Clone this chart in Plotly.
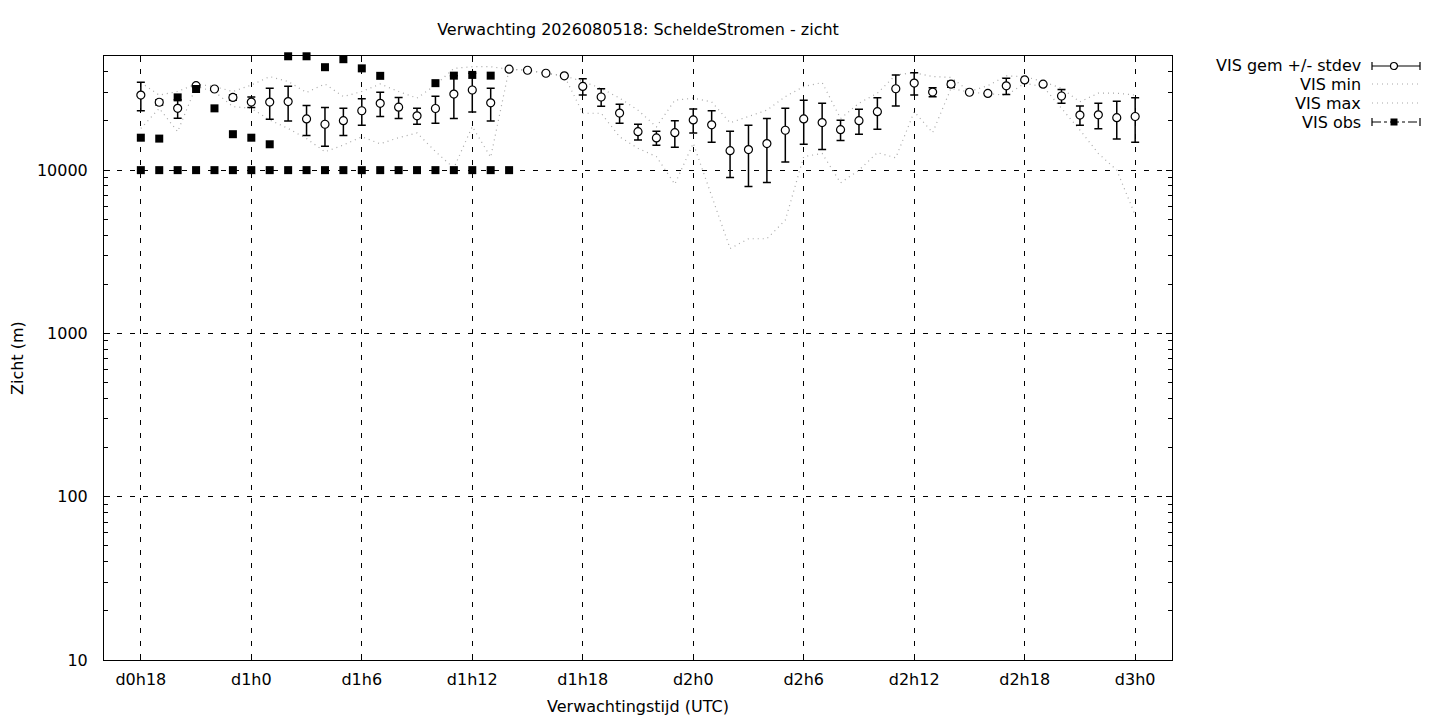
import plotly.graph_objects as go

# forecast hours since d0h0
hours = [18, 19, 20, 21, 22, 23, 24, 25, 26, 27, 28, 29, 30, 31, 32, 33, 34, 35, 36,
         37, 38, 39, 40, 41, 42, 43, 44, 45, 46, 47, 48, 49, 50, 51, 52, 53, 54, 55,
         56, 57, 58, 59, 60, 61, 62, 63, 64, 65, 66, 67, 68, 69, 70, 71, 72]

vis_mean = [28800, 26050, 23900, 32900, 31400, 27900, 26100, 26100, 26300, 20600,
            19100, 20100, 23100, 25650, 24300, 21500, 23850, 29250, 30950, 25850,
            41500, 40900, 39200, 37800, 32550, 28050, 22350, 17200, 15750, 16950,
            20300, 18950, 13160, 13370, 14550, 17550, 20600, 19550, 17700, 20100,
            22800, 31500, 34150, 30050, 33600, 30000, 29500, 32850, 35700, 33600,
            28450, 21750, 21800, 20950, 21300]

vis_sd = [5700, 950, 3100, 600, 300, 1100, 1900, 5600, 6300, 4300,
          5100, 3800, 4300, 4350, 3600, 2400, 4450, 8550, 8250, 5850,
          0, 0, 0, 0, 3750, 3450, 2950, 1900, 1550, 3150,
          3400, 4150, 4140, 5430, 6150, 6350, 6200, 6150, 2500, 3500,
          5000, 6800, 5350, 1950, 1450, 0, 0, 3750, 0, 0,
          2750, 2950, 3900, 5450, 6500]

vis_min = [18000, 23900, 17200, 32500, 30300, 24500, 23900, 20300, 18000, 15600,
           12950, 14250, 16000, 14500, 15800, 16900, 13000, 10300, 18500, 12000,
           41500, 40900, 39200, 37800, 22300, 22300, 16000, 13600, 12100, 8200,
           14600, 6870, 3310, 3800, 3800, 4940, 12100, 12650, 8360, 10000,
           12800, 11900, 22800, 16950, 31700, 30000, 29500, 28800, 34000, 32500,
           23900, 17600, 12650, 10000, 5300]

vis_max = [34400, 28800, 30300, 33700, 32500, 30300, 33200, 37400, 34900, 29900,
           33700, 28200, 30300, 33700, 30300, 27600, 33200, 42000, 43000, 43000,
           41500, 40900, 39200, 37800, 34900, 31700, 27600, 23300, 18400, 26800,
           27600, 26200, 19500, 21200, 23300, 28200, 32500, 34400, 20700, 25700,
           29600, 38300, 39500, 37400, 37000, 30300, 32900, 37800, 37400, 34900,
           31700, 26200, 29600, 29600, 28800]

# observations (two stations)
obs_hours = [18, 19, 20, 21, 22, 23, 24, 25, 26, 27, 28, 29, 30, 31, 32, 33, 34,
             35, 36, 37, 38]
obs_a = [10000, 10000, 10000, 10000, 10000, 10000, 10000, 10000, 10000, 10000,
         10000, 10000, 10000, 10000, 10000, 10000, 10000, 10000, 10000, 10000, 10000]
obs_b = [15800, 15600, 27900, 31400, 23900, 16600, 15800, 14400, 49800, 49800,
         42700, 47800, 42000, 37800, None, None, 34100, 37900, 38300, 37900, None]

tick_hours = [18, 24, 30, 36, 42, 48, 54, 60, 66, 72]
tick_text = ["d0h18", "d1h0", "d1h6", "d1h12", "d1h18", "d2h0", "d2h6", "d2h12",
             "d2h18", "d3h0"]

FONT = "DejaVu Sans"
FS = 16
OFF = 8  # page body margin
W, H = 1440 - OFF, 720 - OFF
# plot area in page pixels
L, R, T, B = 104, 1172, 56, 660
MIN_COLOR = "#a8a8a8"
MIN_DASH = "1px,4px"
GRID_DASH = "5px,8px"

fig = go.Figure()

fig.add_trace(go.Scatter(x=hours, y=vis_min, mode="lines", name="VIS min",
                         line=dict(color=MIN_COLOR, width=1.2, dash=MIN_DASH),
                         showlegend=False))
fig.add_trace(go.Scatter(x=hours, y=vis_max, mode="lines", name="VIS max",
                         line=dict(color=MIN_COLOR, width=1.2, dash=MIN_DASH),
                         showlegend=False))
fig.add_trace(go.Scatter(
    x=hours, y=vis_mean, mode="markers", name="VIS gem +/- stdev",
    marker=dict(symbol="circle", size=8, color="white",
                line=dict(color="black", width=1.2)),
    error_y=dict(type="data", array=vis_sd, symmetric=True, color="black",
                 thickness=1.5, width=4),
    showlegend=False))
for obs in (obs_a, obs_b):
    fig.add_trace(go.Scatter(
        x=obs_hours, y=obs, mode="markers", name="VIS obs",
        marker=dict(symbol="square", size=8, color="black"),
        cliponaxis=False, showlegend=False))


# legend drawn gnuplot-style: text right-aligned, sample on the right
def px(x):
    return (x - L) / (R - L)


def py(y):
    return (B - y) / (B - T)


shapes = []
annotations = []
rows = [("VIS gem +/- stdev", 66), ("VIS min", 84), ("VIS max", 103), ("VIS obs", 122)]
for label, yy in rows:
    annotations.append(dict(text=label, xref="paper", yref="paper", x=px(1363), y=py(yy),
                            xanchor="right", yanchor="middle", showarrow=False,
                            font=dict(family=FONT, size=FS, color="black")))
x0, x1, xm = 1372, 1420, 1394
for label, yy in rows:
    if label in ("VIS min", "VIS max"):
        shapes.append(dict(type="line", xref="paper", yref="paper", x0=px(x0), x1=px(x1),
                           y0=py(yy), y1=py(yy),
                           line=dict(color=MIN_COLOR, width=1.2, dash=MIN_DASH)))
        continue
    dash = "solid" if label.startswith("VIS gem") else "dashdot"
    shapes.append(dict(type="line", xref="paper", yref="paper", x0=px(x0), x1=px(x1),
                       y0=py(yy), y1=py(yy), line=dict(color="black", width=1.2, dash=dash)))
    for xe in (x0, x1):
        shapes.append(dict(type="line", xref="paper", yref="paper", x0=px(xe), x1=px(xe),
                           y0=py(yy - 4), y1=py(yy + 4), line=dict(color="black", width=1.2)))
    if dash == "solid":
        shapes.append(dict(type="circle", xref="paper", yref="paper",
                           x0=px(xm - 3.5), x1=px(xm + 3.5), y0=py(yy + 3.5), y1=py(yy - 3.5),
                           fillcolor="white", line=dict(color="black", width=1.2)))
    else:
        shapes.append(dict(type="rect", xref="paper", yref="paper",
                           x0=px(xm - 3.5), x1=px(xm + 3.5), y0=py(yy + 3.5), y1=py(yy - 3.5),
                           fillcolor="black", line=dict(color="black", width=0)))

# axis titles
annotations.append(dict(text="Verwachtingstijd (UTC)", xref="paper", yref="paper",
                        x=0.5, y=py(706), xanchor="center", yanchor="middle",
                        showarrow=False, font=dict(family=FONT, size=FS, color="black")))
annotations.append(dict(text="Zicht (m)", xref="paper", yref="paper",
                        x=px(17), y=0.5, xanchor="center", yanchor="middle", textangle=-90,
                        showarrow=False, font=dict(family=FONT, size=FS, color="black")))

fig.update_layout(
    width=W, height=H,
    margin=dict(l=L - OFF, r=W - (R - OFF), t=T - OFF, b=H - (B - OFF)),
    paper_bgcolor="white", plot_bgcolor="white",
    font=dict(family=FONT, size=FS, color="black"),
    title=dict(text="Verwachting 2026080518: ScheldeStromen - zicht",
               x=px(638), xref="paper", y=1 - (29 - OFF) / H, yref="container",
               xanchor="center", yanchor="middle",
               font=dict(family=FONT, size=FS, color="black")),
    showlegend=False,
    shapes=shapes,
    annotations=annotations,
    hovermode=False,
)

fig.update_xaxes(
    range=[16, 74], tickmode="array", tickvals=tick_hours, ticktext=tick_text,
    ticks="inside", ticklen=6, tickcolor="black", showline=True, linecolor="black",
    linewidth=1, mirror="allticks", showgrid=True, gridcolor="black", gridwidth=1,
    griddash=GRID_DASH, zeroline=False, ticklabelstandoff=5,
)
fig.update_yaxes(
    type="log", range=[1, 4.699], tickmode="array", tickvals=[10, 100, 1000, 10000],
    ticktext=["10", "100", "1000", "10000"],
    ticks="inside", ticklen=6, tickcolor="black", showline=True, linecolor="black",
    linewidth=1, mirror="allticks", showgrid=True, gridcolor="black", gridwidth=1,
    griddash=GRID_DASH, zeroline=False, ticklabelstandoff=12,
    minor=dict(ticks="inside", ticklen=4, tickcolor="black", dtick="D1", showgrid=False),
)

fig.write_html("out.html")
